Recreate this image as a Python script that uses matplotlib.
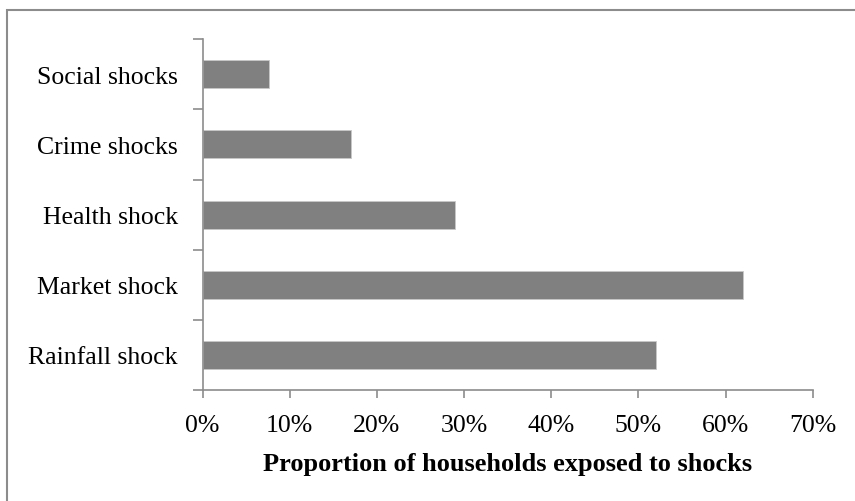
import matplotlib.pyplot as plt
from matplotlib.patches import Rectangle
from matplotlib.ticker import PercentFormatter

categories = ['Rainfall shock', 'Market shock', 'Health shock', 'Crime shocks', 'Social shocks']
values = [52, 62, 29, 17, 7.6]
xticks = [0, 10, 20, 30, 40, 50, 60, 70]

plt.rcParams['font.family'] = ['Liberation Serif', 'DejaVu Serif']

fig = plt.figure(figsize=(8.55, 5.02), dpi=100)
ax = fig.add_axes([0.237, 0.221, 0.7135, 0.699])

# outer frame (right/bottom edges run off the picture)
fig.patches.append(Rectangle((0.008, -0.05), 1.1, 1.029, transform=fig.transFigure,
                             fill=False, edgecolor='#8c8c8c', linewidth=1.5))

ax.barh(categories, values, height=0.4, color='#808080', edgecolor='#c8c8c8', linewidth=0.6)

ax.set_xlim(0, 70)
ax.set_ylim(-0.5, 4.5)
ax.set_xticks(xticks)
ax.xaxis.set_major_formatter(PercentFormatter(decimals=0))
ax.set_yticks([i - 0.5 for i in range(6)], minor=False)
ax.set_yticklabels([])
ax.set_yticks(range(len(categories)), minor=True)
ax.set_yticklabels(categories, minor=True)

for s in ['top', 'right']:
    ax.spines[s].set_visible(False)
for s in ['left', 'bottom']:
    ax.spines[s].set_color('#8c8c8c')
    ax.spines[s].set_linewidth(1.2)

ax.tick_params(axis='x', which='major', direction='out', length=6, color='#8c8c8c',
               width=1.2, labelsize=18.5, pad=11)
ax.tick_params(axis='y', which='major', direction='out', length=7, color='#8c8c8c', width=1.2)
ax.tick_params(axis='y', which='minor', length=0, labelsize=18.5, pad=18)

ax.set_xlabel('Proportion of households exposed to shocks', fontsize=19,
              fontweight='bold', labelpad=12)

fig.savefig('out.png', dpi=100)
